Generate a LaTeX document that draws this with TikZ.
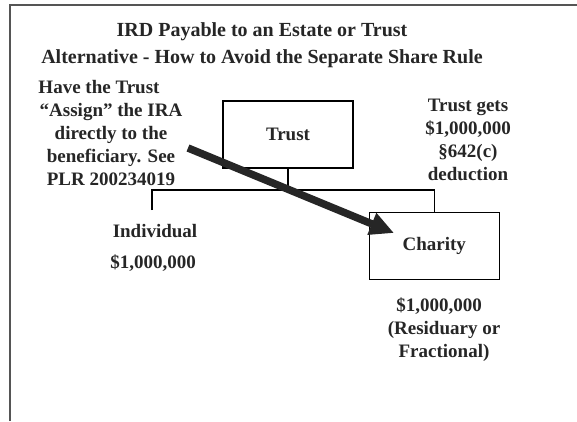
\documentclass[tikz,border=0pt]{standalone}
\usepackage{fontspec}
\setmainfont{Liberation Serif}
\usetikzlibrary{arrows.meta, positioning, calc}
\definecolor{SlideInk}{HTML}{262626}
\definecolor{SlideFrame}{HTML}{555555}

\begin{document}
\begin{tikzpicture}[x=1pt, y=-1pt, >=Stealth,
        partybox/.style={rectangle, draw=black, line width=1.2pt, minimum width=130pt, minimum height=67pt, text=SlideInk, font=\fontsize{19}{23}\selectfont\bfseries},
        notetext/.style={align=center, inner sep=0pt, text=SlideInk, font=\fontsize{19}{23}\selectfont\bfseries},
        branch/.style={draw=black, line width=1.3pt},
        arrow/.style={-{Triangle[length=24pt, width=22pt]}, line width=7.5pt, SlideInk}]

        \useasboundingbox[fill=white] (0,0) rectangle (577,421);
        \draw[SlideFrame, line width=2pt] (10,421) -- (10,5) -- (577,5);

        \node[notetext, font=\fontsize{20}{27}\selectfont\bfseries] (title) at (262,45)
            {IRD Payable to an Estate or Trust\\Alternative - How to Avoid the Separate Share Rule};

        \node[partybox] (trust) at (288,134.5) {Trust};
        \node[partybox, below right=43pt and 15pt of trust.south east, anchor=north west] (charity) {Charity};

        \node[notetext] (assign) at (111,133)
            {Have the Trust\hspace*{24pt}\\“Assign” the IRA\\directly to the\\beneficiary.  See\\PLR 200234019};
        \node[notetext] (deduct) at (468,140)
            {Trust gets\\\$1,000,000\\§642(c)\\deduction};
        \node[notetext, anchor=base] (indiv) at (155,237) {Individual};
        \node[notetext, anchor=base] (indivamt) at (153,268) {\$1,000,000};
        \node[notetext] (residual) at (444,330)
            {\$1,000,000\hspace*{10pt}\\(Residuary or\\Fractional)};

        \coordinate (split) at (trust.south |- 0,190);
        \coordinate (indivtop) at (152,210);
        \draw[branch] (trust.south) -- (split);
        \draw[branch] (indivtop) |- (split) -| (charity.north);

        \coordinate (assigntail) at (188,148);
        \coordinate (assigntip) at (394,233);
        \draw[arrow] (assigntail) -- (assigntip);
    \end{tikzpicture}
\end{document}
